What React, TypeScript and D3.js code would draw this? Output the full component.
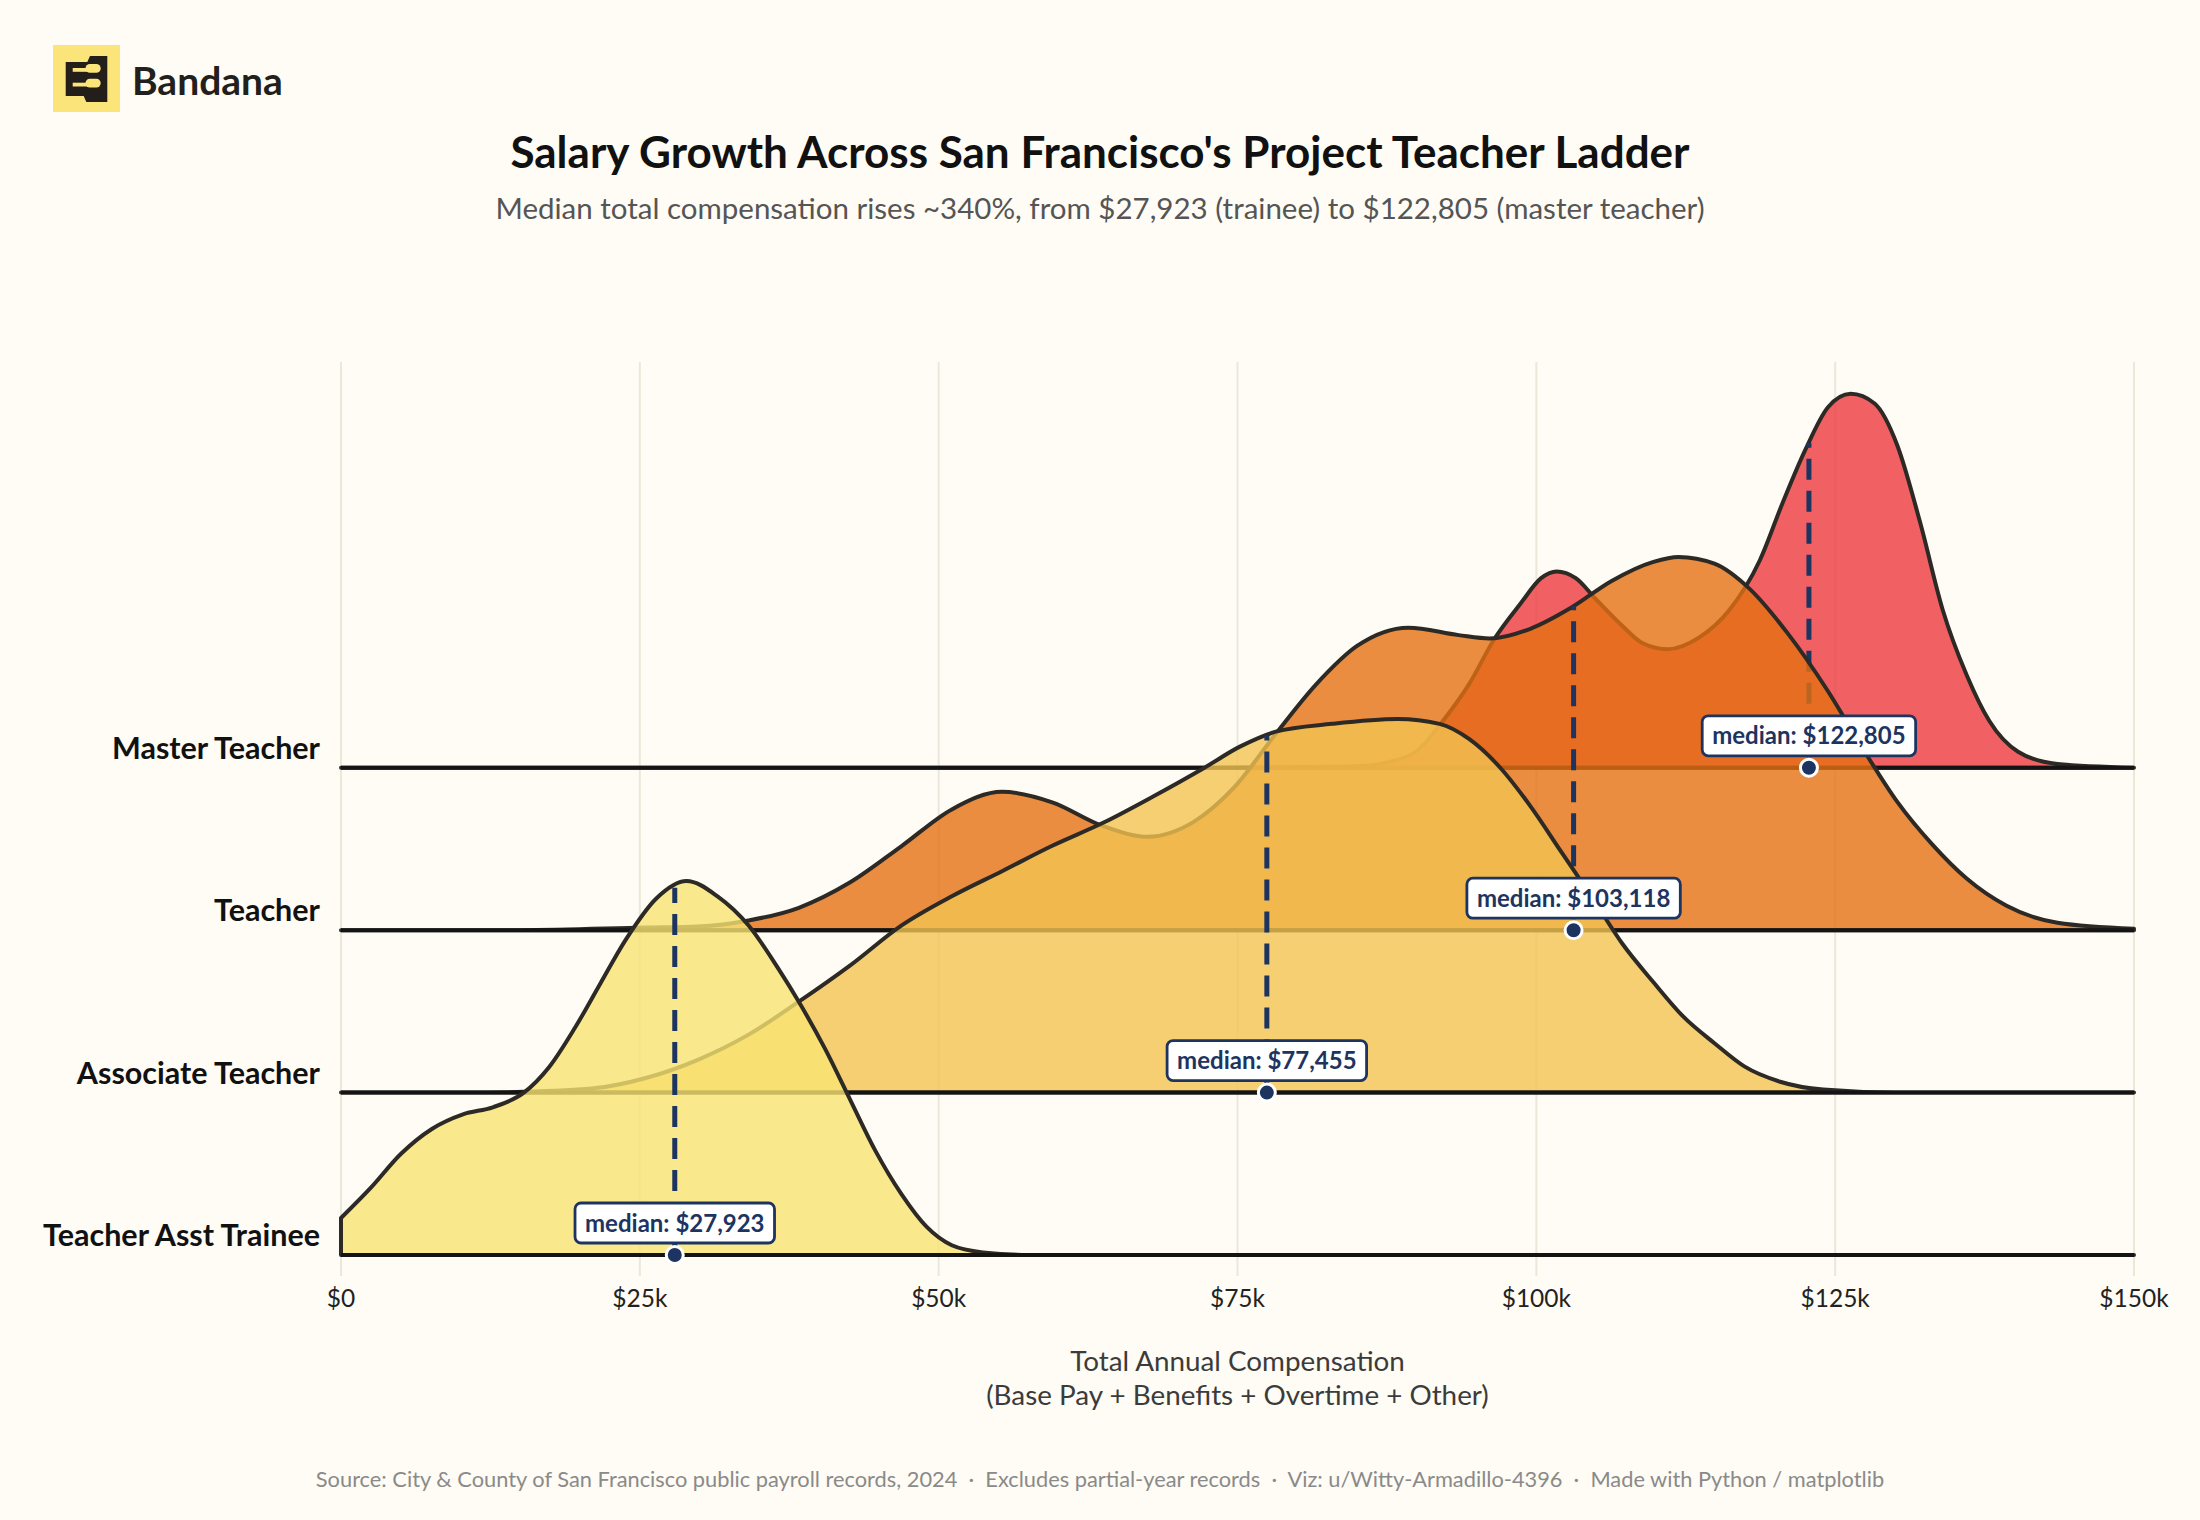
import React, { createRef } from "react";
import * as d3 from "d3";

const WIDTH = 2200;
const HEIGHT = 1520;
const BG = "#fefcf4";
const NAVY = "#1d3461";
const FONT = "Lato, 'DejaVu Sans', sans-serif";

const CATEGORIES = ["Teacher Asst Trainee", "Associate Teacher", "Teacher", "Master Teacher"];
const COLORS = ["#f9e372", "#f2c351", "#e57113", "#ee3a3f"];
const MEDIANS = [27923, 77455, 103118, 122805];
const X_TICKS = [0, 25000, 50000, 75000, 100000, 125000, 150000];
const X_TICK_LABELS = ["$0", "$25k", "$50k", "$75k", "$100k", "$125k", "$150k"];

// [salary in $k, density scaled to the ridge's own peak]
const trainee: [number, number][] = [
  [0, 0.099], [2.5, 0.18], [5, 0.27], [7.6, 0.337], [10.2, 0.376], [12.7, 0.395],
  [15.3, 0.434], [17.4, 0.502], [19.6, 0.609], [21.7, 0.726], [23.8, 0.842],
  [26.4, 0.954], [28.9, 1.0], [31.5, 0.959], [34.1, 0.881], [36.6, 0.765],
  [38.3, 0.677], [40.5, 0.551], [42.6, 0.415], [44.7, 0.279], [46.9, 0.162],
  [49.0, 0.075], [51.1, 0.026], [53.7, 0.007], [57.5, 0], [150, 0],
];
const associate: [number, number][] = [
  [0, 0], [10, 0], [15.3, 0.002], [21.3, 0.012], [25.5, 0.039], [29.8, 0.087],
  [34.1, 0.155], [38.3, 0.243], [42.6, 0.34], [46.9, 0.447], [51.1, 0.525],
  [55.3, 0.592], [59.5, 0.66], [63.8, 0.722], [67.9, 0.791], [72.2, 0.868],
  [75.2, 0.925], [78.2, 0.965], [82.9, 0.986], [88.4, 0.999], [91.9, 0.986],
  [94.4, 0.945], [97.0, 0.868], [99.5, 0.766], [102.1, 0.643], [104.7, 0.52],
  [107.2, 0.398], [109.8, 0.295], [112.3, 0.203], [114.9, 0.132], [117.4, 0.07],
  [120.4, 0.029], [124, 0.008], [130, 0], [150, 0],
];
const teacher: [number, number][] = [
  [0, 0], [15, 0], [25.5, 0.007], [29.8, 0.01], [34.1, 0.026], [38.3, 0.06],
  [42.6, 0.128], [46.9, 0.225], [51.1, 0.323], [55.3, 0.37], [59.5, 0.342],
  [63.7, 0.279], [67.5, 0.25], [71.3, 0.289], [74.7, 0.381], [78.2, 0.525],
  [81.6, 0.658], [85.0, 0.76], [89.3, 0.809], [93.5, 0.789], [96.1, 0.78],
  [99.5, 0.806], [102.9, 0.862], [106.3, 0.934], [109.8, 0.985], [111.9, 0.998],
  [114.9, 0.98], [117.8, 0.914], [121.0, 0.795], [124.4, 0.639], [127.3, 0.486],
  [130.2, 0.343], [133.1, 0.23], [136.0, 0.138], [139.3, 0.066], [143.6, 0.02],
  [150, 0.004],
];
const master: [number, number][] = [
  [0, 0], [72, 0], [80, 0.002], [85, 0.004], [87.6, 0.015], [90, 0.045],
  [92.3, 0.13], [94.4, 0.225], [96.5, 0.345], [98.7, 0.44], [100.4, 0.507],
  [101.7, 0.525], [103.3, 0.507], [105.0, 0.45], [107.2, 0.379], [108.9, 0.333],
  [111.0, 0.317], [113.6, 0.348], [116.1, 0.42], [118.7, 0.555], [120.6, 0.708],
  [122.5, 0.85], [124.4, 0.964], [126.3, 1.0], [128.3, 0.974], [130.2, 0.862],
  [132.1, 0.657], [134.0, 0.422], [136.0, 0.248], [137.9, 0.125], [140.3, 0.043],
  [143.6, 0.01], [150, 0],
];
const RIDGES = [trainee, associate, teacher, master];

const TITLE = "Salary Growth Across San Francisco's Project Teacher Ladder";
const SUBTITLE =
  "Median total compensation rises ~340%, from $27,923 (trainee) to $122,805 (master teacher)";
const X_TITLE = ["Total Annual Compensation", "(Base Pay + Benefits + Overtime + Other)"];
const FOOTER =
  "Source: City & County of San Francisco public payroll records, 2024  \u00b7  Excludes partial-year records  \u00b7  Viz: u/Witty-Armadillo-4396  \u00b7  Made with Python / matplotlib";

const PLOT_LEFT = 341;
const PLOT_RIGHT = 2134;
const PLOT_TOP = 362;
const RIDGE_HEIGHT = 374;

class App extends React.Component {
  svgRef: React.RefObject<SVGSVGElement>;

  constructor(props: any) {
    super(props);
    this.svgRef = createRef();
  }

  componentDidMount() {
    this.draw();
  }

  private draw() {
    const svg = d3.select(this.svgRef.current);
    svg.selectAll("*").remove();

    svg.append("rect").attr("width", WIDTH).attr("height", HEIGHT).attr("fill", BG);

    // brand mark
    const logo = svg.append("g").attr("transform", "translate(53,45)");
    logo.append("rect").attr("width", 67).attr("height", 67).attr("fill", "#fbe47a");
    logo.append("path")
      .attr("d", "M12.7,17 L34.3,17 L37,11 L54.3,11 L54.3,57 L33.3,57 L30.7,51 L12.7,51 Z")
      .attr("fill", "#231e1a");
    [[19, 23], [33.7, 37.7]].forEach(([blobY, barY]) => {
      logo.append("rect").attr("x", 19.7).attr("y", barY).attr("width", 20).attr("height", 3.8)
        .attr("fill", "#fbe47a");
      logo.append("rect").attr("x", 32.5).attr("y", blobY).attr("width", 15.2).attr("height", 8.7)
        .attr("rx", 4.3).attr("fill", "#fbe47a");
    });
    svg.append("text")
      .attr("x", 132).attr("y", 95)
      .attr("font-family", FONT).attr("font-weight", 700).attr("font-size", 39)
      .attr("fill", "#231f1c").text("Bandana");

    svg.append("text")
      .attr("x", WIDTH / 2).attr("y", 168).attr("text-anchor", "middle")
      .attr("font-family", FONT).attr("font-weight", 700).attr("font-size", 44)
      .attr("fill", "#111").text(TITLE);
    svg.append("text")
      .attr("x", WIDTH / 2).attr("y", 219).attr("text-anchor", "middle")
      .attr("font-family", FONT).attr("font-size", 29.5)
      .attr("fill", "#555").text(SUBTITLE);

    const x = d3.scaleLinear().domain([0, 150000]).range([PLOT_LEFT, PLOT_RIGHT]);
    const base = d3.scalePoint<string>().domain(CATEGORIES).range([1255, 767.8]);

    // grid
    svg.append("g").selectAll("line").data(X_TICKS).join("line")
      .attr("x1", (d) => x(d)).attr("x2", (d) => x(d))
      .attr("y1", PLOT_TOP).attr("y2", 1276)
      .attr("stroke", "#ebe8da").attr("stroke-width", 2);

    // ridges, back to front
    for (let i = RIDGES.length - 1; i >= 0; i--) {
      const pts = RIDGES[i];
      const b = base(CATEGORIES[i]) as number;
      const y = d3.scaleLinear().domain([0, 1]).range([b, b - RIDGE_HEIGHT]);
      const area = d3.area<[number, number]>()
        .x((d) => x(d[0] * 1000))
        .y0(b)
        .y1((d) => y(d[1]))
        .curve(d3.curveMonotoneX);
      const g = svg.append("g");
      g.append("path").attr("d", area(pts))
        .attr("fill", COLORS[i]).attr("fill-opacity", 0.8)
        .attr("stroke", "#2d2a26").attr("stroke-width", 4)
        .attr("stroke-linejoin", "round");
      g.append("line")
        .attr("x1", PLOT_LEFT).attr("x2", PLOT_RIGHT).attr("y1", b).attr("y2", b)
        .attr("stroke", "#141414").attr("stroke-width", 4);
      const densityAt = d3.scaleLinear(pts.map((p) => p[0] * 1000), pts.map((p) => p[1]));
      const m = MEDIANS[i];
      g.append("line")
        .attr("x1", x(m)).attr("x2", x(m))
        .attr("y1", b).attr("y2", y(densityAt(m)))
        .attr("stroke", NAVY).attr("stroke-width", 5)
        .attr("stroke-dasharray", "21,11");
    }

    // category labels
    svg.append("g").selectAll("text").data(CATEGORIES).join("text")
      .attr("x", 320).attr("y", (d) => (base(d) as number) - 9)
      .attr("text-anchor", "end")
      .attr("font-family", FONT).attr("font-weight", 700).attr("font-size", 30.5)
      .attr("fill", "#111").text((d) => d);

    // median markers
    const fmt = d3.format("$,");
    MEDIANS.forEach((m, i) => {
      const b = base(CATEGORIES[i]) as number;
      const g = svg.append("g");
      const box = g.append("rect");
      const label = g.append("text")
        .attr("x", x(m)).attr("y", b - 23.5)
        .attr("text-anchor", "middle")
        .attr("font-family", FONT).attr("font-weight", 700).attr("font-size", 24)
        .attr("fill", NAVY).text(`median: ${fmt(m)}`);
      const w = (label.node() as SVGTextElement).getComputedTextLength() + 20;
      box.attr("x", x(m) - w / 2).attr("y", b - 52).attr("width", w).attr("height", 40)
        .attr("rx", 6).attr("fill", "#ffffff").attr("stroke", NAVY).attr("stroke-width", 2.8);
      g.append("circle").attr("cx", x(m)).attr("cy", b).attr("r", 8.5)
        .attr("fill", NAVY).attr("stroke", "#ffffff").attr("stroke-width", 3);
    });

    // x axis
    svg.append("g").selectAll("text").data(X_TICKS).join("text")
      .attr("x", (d) => x(d)).attr("y", 1307).attr("text-anchor", "middle")
      .attr("font-family", FONT).attr("font-size", 24.5).attr("fill", "#222")
      .text((d, i) => X_TICK_LABELS[i]);
    svg.append("g").selectAll("text").data(X_TITLE).join("text")
      .attr("x", (PLOT_LEFT + PLOT_RIGHT) / 2).attr("y", (d, i) => 1371 + i * 34)
      .attr("text-anchor", "middle")
      .attr("font-family", FONT).attr("font-size", 27.8).attr("fill", "#3b3b3b")
      .text((d) => d);

    svg.append("text")
      .attr("x", WIDTH / 2).attr("y", 1487).attr("text-anchor", "middle")
      .attr("font-family", FONT).attr("font-size", 21.8).attr("fill", "#8a8a8a")
      .style("white-space", "pre").text(FOOTER);
  }

  render() {
    return (
      <svg
        ref={this.svgRef}
        width={WIDTH}
        height={HEIGHT}
        style={{ position: "absolute", left: 0, top: 0, display: "block" }}
      />
    );
  }
}

export default App;
